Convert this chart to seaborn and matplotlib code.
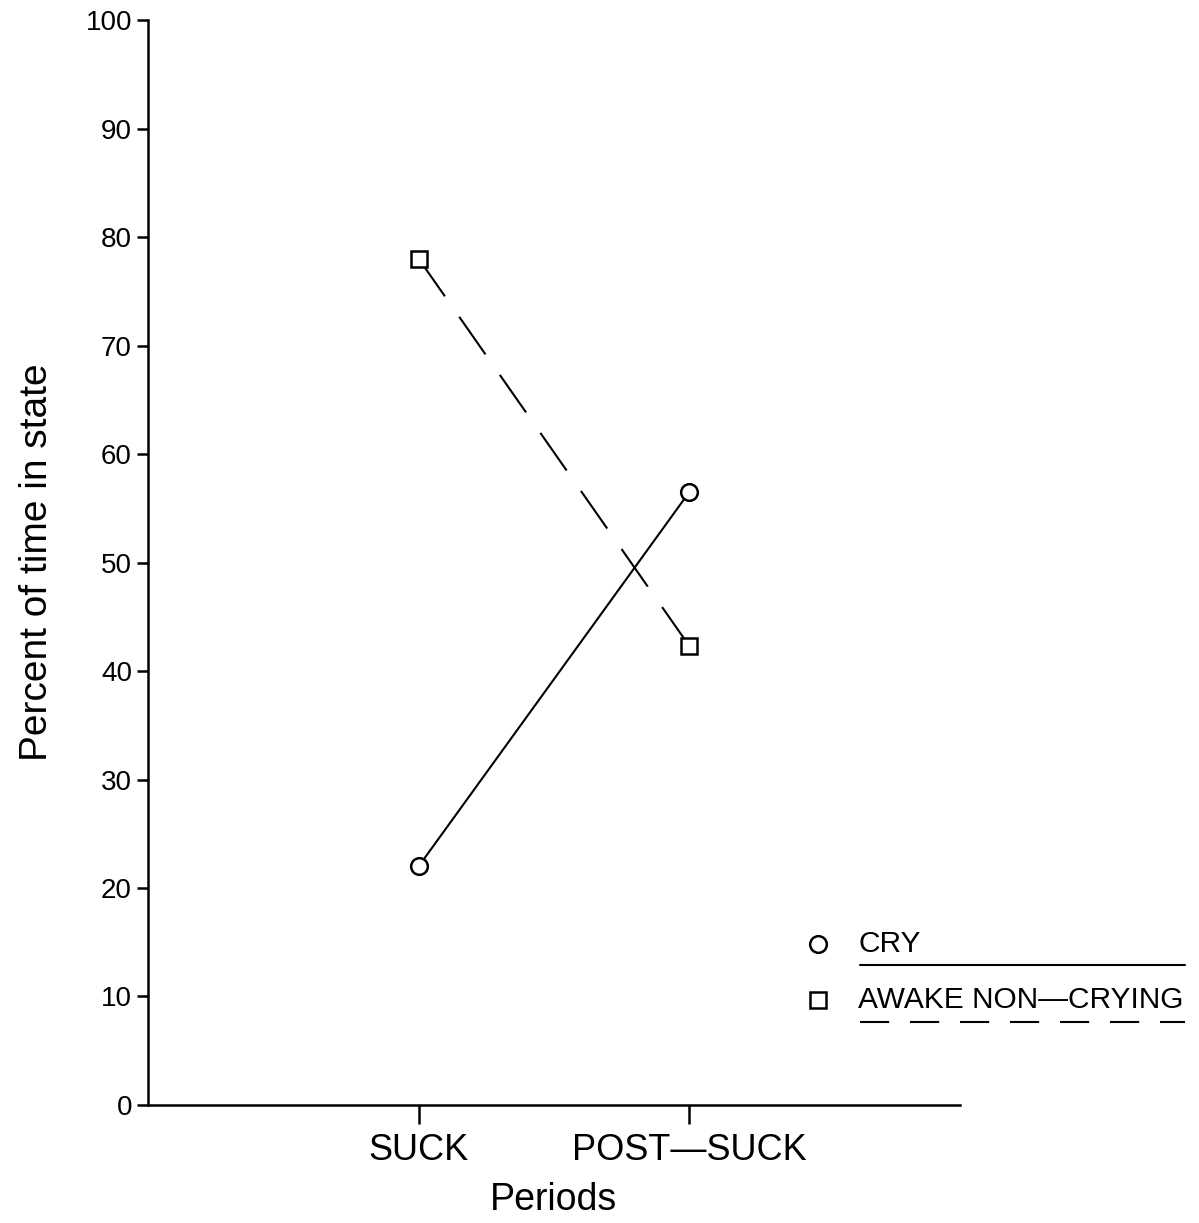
import matplotlib
matplotlib.use("Agg")
import matplotlib.pyplot as plt
from matplotlib.lines import Line2D
import seaborn as sns
import pandas as pd

periods = ["SUCK", "POST-SUCK"]
cry = [22, 56.5]
awake = [78, 42.3]
y_ticks = [0, 10, 20, 30, 40, 50, 60, 70, 80, 90, 100]

df = pd.DataFrame({
    "period": periods * 2,
    "value": cry + awake,
    "state": ["CRY"] * 2 + ["AWAKE NON-CRYING"] * 2,
})

sns.set_theme(style="ticks")
plt.rcParams["font.family"] = ["Liberation Sans", "DejaVu Sans"]
plt.rcParams["text.color"] = "black"
plt.rcParams["axes.labelcolor"] = "black"
plt.rcParams["xtick.color"] = "black"
plt.rcParams["ytick.color"] = "black"

fig = plt.figure(figsize=(11.99, 12.23), dpi=100)
ax = fig.add_axes([0.1234, 0.0965, 0.8007 - 0.1234, 0.9836 - 0.0965])

sns.lineplot(data=df, x="period", y="value", style="state",
             markers={"CRY": "o", "AWAKE NON-CRYING": "s"},
             dashes={"CRY": "", "AWAKE NON-CRYING": (22, 12)},
             color="black", linewidth=1.5, markersize=12,
             markerfacecolor="white", markeredgecolor="black",
             markeredgewidth=1.8, legend=False, ax=ax)

ax.set_xlim(-1, 2)
ax.set_ylim(0, 100)
ax.set_yticks(y_ticks)
ax.set_xticks([0, 1])
ax.set_xticklabels(["SUCK", "POST\u2014SUCK"], fontsize=26)
ax.tick_params(axis="y", labelsize=20, length=8, width=1.8, color="black", labelcolor="black")
ax.tick_params(axis="x", length=14, width=1.8, color="black", pad=6, labelcolor="black")
for s in ["top", "right"]:
    ax.spines[s].set_visible(False)
for s in ["left", "bottom"]:
    ax.spines[s].set_linewidth(1.8)
    ax.spines[s].set_color("black")
ax.set_xlabel("Periods", fontsize=27, labelpad=10, color="black")
ax.set_ylabel("Percent of time in state", fontsize=28, labelpad=22, color="black")

# legend drawn in figure coordinates
def fx(px):
    return px / 1199
def fy(py):
    return 1 - py / 1223

fig.add_artist(Line2D([fx(818)], [fy(944)], marker="o", markersize=12,
                      markerfacecolor="white", markeredgecolor="black",
                      markeredgewidth=1.8, linestyle="none"))
fig.text(fx(858), fy(944), "CRY", fontsize=21.5, va="center", ha="left", color="black")
fig.add_artist(Line2D([fx(860), fx(1185)], [fy(965), fy(965)], color="black", lw=1.5))

fig.add_artist(Line2D([fx(818)], [fy(1000)], marker="s", markersize=11,
                      markerfacecolor="white", markeredgecolor="black",
                      markeredgewidth=1.8, linestyle="none"))
fig.text(fx(858), fy(1000), "AWAKE NON\u2014CRYING", fontsize=21.5, va="center", ha="left", color="black")
fig.add_artist(Line2D([fx(860), fx(1185)], [fy(1022), fy(1022)], color="black", lw=1.5,
                      dashes=(14, 10)))

fig.savefig("out.png", dpi=100, facecolor="white")
